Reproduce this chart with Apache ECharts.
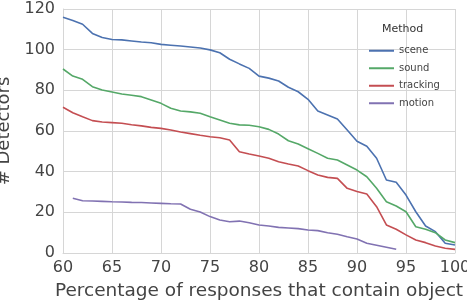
<!DOCTYPE html>
<html>
<head>
<meta charset="UTF-8">
<title>Detectors</title>
<script src="https://cdn.jsdelivr.net/npm/echarts@6/dist/echarts.min.js"></script>
<style>
  html, body { margin: 0; padding: 0; background: #fff; }
  #chart { width: 467px; height: 301px; }
</style>
</head>
<body>
<div id="chart"></div>
<script>
// percentage thresholds (x)
var pct = [60, 61, 62, 63, 64, 65, 66, 67, 68, 69, 70, 71, 72, 73, 74, 75, 76, 77, 78, 79,
  80, 81, 82, 83, 84, 85, 86, 87, 88, 89, 90, 91, 92, 93, 94, 95, 96, 97, 98, 99, 100];

var scene = [115.9, 114.3, 112.5, 108, 106, 105, 104.8, 104.3, 103.8, 103.4, 102.6, 102.2, 101.8, 101.3, 100.8, 99.9, 98.5, 95.3, 93, 90.8,
  87, 86, 84.6, 81.5, 79.3, 75.6, 69.8, 67.9, 65.9, 60.5, 55, 52.5, 46.6, 35.9, 34.8, 28.5, 20.3, 13.3, 10.5, 4.8, 3.9];
var sound = [90.5, 87, 85.4, 81.8, 80.2, 79.2, 78.2, 77.6, 76.9, 75.3, 73.6, 71.2, 69.8, 69.4, 68.7, 67, 65.4, 63.8, 63, 62.8,
  62.1, 60.8, 58.5, 55.2, 53.6, 51.3, 49, 46.6, 45.7, 43.3, 40.8, 37.5, 31.8, 25.2, 23.1, 20.3, 12.9, 11.7, 10, 6.4, 5.1];
var tracking = [71.7, 69, 67, 65.1, 64.4, 64.1, 63.8, 63.1, 62.5, 61.8, 61.3, 60.5, 59.5, 58.7, 57.9, 57.2, 56.7, 55.6, 49.8, 48.7,
  47.7, 46.6, 44.9, 43.8, 42.8, 40.5, 38.4, 37.2, 36.7, 31.8, 30.2, 29, 22.8, 13.8, 11.7, 8.9, 6.4, 5.1, 3.4, 2.3, 1.8];
// motion starts at 61 and stops at 94
var motion = [null, 26.9, 25.7, 25.6, 25.4, 25.2, 25.1, 24.9, 24.8, 24.6, 24.4, 24.2, 24.1, 21.5, 20.2, 17.9, 16.2, 15.4, 15.7, 14.9,
  13.8, 13.3, 12.6, 12.3, 12, 11.3, 11, 10, 9.2, 8, 6.9, 4.8, 3.8, 2.8, 1.8];

var names = ['scene', 'sound', 'tracking', 'motion'];
var colors = ['#4C72B0', '#55A868', '#C44E52', '#8172B2'];
var values = [scene, sound, tracking, motion];

function pairs(arr) {
  var out = [];
  for (var i = 0; i < arr.length; i++) {
    if (arr[i] != null) out.push([pct[i], arr[i]]);
  }
  return out;
}

var chart = echarts.init(document.getElementById('chart'));

var series = names.map(function (n, i) {
  return {
    name: n,
    type: 'line',
    data: pairs(values[i]),
    showSymbol: false,
    lineStyle: { width: 1.6, color: colors[i] },
    itemStyle: { color: colors[i] }
  };
});

var option = {
  animation: false,
  backgroundColor: '#fff',
  textStyle: { fontFamily: 'DejaVu Sans' },
  title: {
    text: 'Method',
    left: 377,
    top: 19,
    textStyle: { fontSize: 11, fontWeight: 'normal', color: '#333', fontFamily: 'DejaVu Sans' }
  },
  legend: {
    data: names,
    orient: 'vertical',
    left: 364,
    top: 39,
    icon: 'rect',
    itemWidth: 25,
    itemHeight: 2,
    itemGap: 4,
    textStyle: { fontSize: 10, color: '#444', fontFamily: 'DejaVu Sans', lineHeight: 13.5 }
  },
  grid: { left: 63, right: 12, top: 9, bottom: 48, containLabel: false, outerBoundsMode: 'none' },
  xAxis: {
    type: 'value',
    min: 60,
    max: 100,
    interval: 5,
    name: 'Percentage of responses that contain object',
    nameLocation: 'middle',
    nameGap: 29,
    nameTextStyle: { fontSize: 18.5, color: '#444' },
    axisLine: { show: true, lineStyle: { color: '#d6d6d6' } },
    axisTick: { show: false },
    axisLabel: { fontSize: 16, color: '#444', margin: 7 },
    splitLine: { show: true, lineStyle: { color: '#d6d6d6' } }
  },
  yAxis: {
    type: 'value',
    min: 0,
    max: 120,
    interval: 20,
    name: '# Detectors',
    nameLocation: 'middle',
    nameGap: 48,
    nameTextStyle: { fontSize: 18, color: '#444' },
    axisLine: { show: true, lineStyle: { color: '#d6d6d6' } },
    axisTick: { show: false },
    axisLabel: { fontSize: 16, color: '#444', margin: 8 },
    splitLine: { show: true, lineStyle: { color: '#d6d6d6' } }
  },
  series: series
};

chart.setOption(option);
</script>
</body>
</html>
